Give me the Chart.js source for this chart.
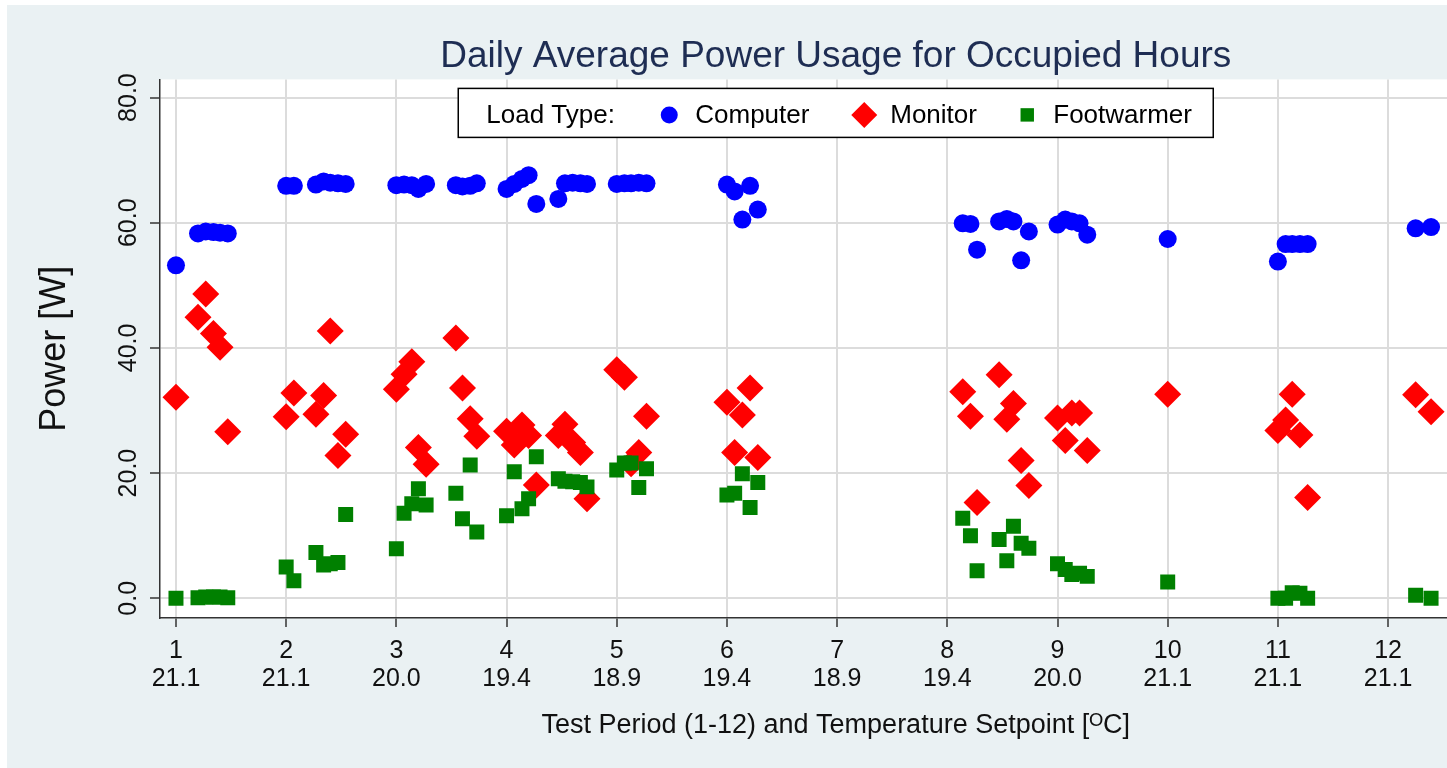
<!DOCTYPE html>
<html>
<head>
<meta charset="utf-8">
<title>Daily Average Power Usage for Occupied Hours</title>
<script src="https://cdn.jsdelivr.net/npm/chart.js@4.4.1/dist/chart.umd.min.js"></script>
<style>
  html, body { margin: 0; padding: 0; background: #fff; overflow: hidden; }
  #wrap { width: 1447px; height: 768px; overflow: hidden; }
</style>
</head>
<body>
<div id="wrap"><canvas id="powerChart" width="1525" height="768"></canvas></div>
<script>
// test periods and their temperature setpoints [C]
const periods = [1, 2, 3, 4, 5, 6, 7, 8, 9, 10, 11, 12];
const setpoints = ['21.1', '21.1', '20.0', '19.4', '18.9', '19.4', '18.9', '19.4', '20.0', '21.1', '21.1', '21.1'];
const powerTicks = [0, 20, 40, 60, 80];

// position of each measured day on the period axis
const days = [
  1.00, 1.20, 1.27, 1.34, 1.40, 1.47,
  2.00, 2.07, 2.27, 2.34, 2.40, 2.47, 2.54,
  3.00, 3.07, 3.14, 3.20, 3.27, 3.54, 3.60, 3.67, 3.73,
  4.00, 4.07, 4.14, 4.20, 4.27, 4.47, 4.53, 4.60, 4.67, 4.73,
  5.00, 5.07, 5.13, 5.20, 5.27,
  6.00, 6.07, 6.14, 6.21, 6.28,
  8.14, 8.21, 8.27, 8.47, 8.54, 8.60, 8.67, 8.74,
  9.00, 9.07, 9.13, 9.20, 9.27,
  10.00,
  11.00, 11.07, 11.13, 11.20, 11.27,
  12.25, 12.39
];

// daily average power [W]
const computer = [
  53.2, 58.3, 58.6, 58.5, 58.4, 58.3,
  65.9, 65.9, 66.1, 66.6, 66.4, 66.3, 66.2,
  66.0, 66.1, 66.0, 65.4, 66.2, 66.0, 65.8, 65.9, 66.3,
  65.4, 66.2, 67.0, 67.6, 63.0, 63.8, 66.3, 66.4, 66.3, 66.2,
  66.2, 66.3, 66.3, 66.4, 66.3,
  66.1, 65.0, 60.5, 65.9, 62.1,
  59.9, 59.8, 55.7, 60.2, 60.6, 60.2, 54.0, 58.6,
  59.7, 60.5, 60.2, 59.9, 58.1,
  57.4,
  53.8, 56.6, 56.6, 56.6, 56.6,
  59.1, 59.3
];
const monitor = [
  32.1, 44.9, 48.6, 42.3, 40.1, 26.6,
  29.0, 32.8, 29.4, 32.4, 42.7, 22.8, 26.2,
  33.4, 35.8, 37.8, 24.1, 21.4, 41.6, 33.6, 28.7, 25.9,
  26.7, 24.5, 27.7, 26.0, 18.1, 26.0, 27.8, 24.9, 23.3, 15.9,
  36.5, 35.3, 21.5, 23.3, 29.1,
  31.3, 23.3, 29.3, 33.6, 22.5,
  33.0, 29.1, 15.3, 35.7, 28.6, 31.1, 22.0, 18.0,
  28.8, 25.2, 29.6, 29.6, 23.6,
  32.6,
  26.8, 28.5, 32.6, 26.1, 16.1,
  32.5, 29.8
];
const footwarmer = [
  0.0, 0.1, 0.2, 0.2, 0.2, 0.1,
  5.0, 2.8, 7.3, 5.3, 5.5, 5.7, 13.4,
  7.9, 13.6, 15.1, 17.5, 14.9, 16.8, 12.7, 21.3, 10.6,
  13.2, 20.2, 14.3, 15.9, 22.6, 19.1, 18.7, 18.6, 18.5, 17.8,
  20.5, 21.6, 21.6, 17.7, 20.7,
  16.5, 16.8, 19.9, 14.5, 18.5,
  12.8, 10.0, 4.4, 9.4, 6.0, 11.5, 8.8, 8.0,
  5.5, 4.6, 3.8, 4.0, 3.5,
  2.6,
  0.0, 0.0, 0.9, 0.8, 0.0,
  0.5, 0.0
];

const FONT = '"Liberation Sans", Arial, sans-serif';

function toPoints(values) {
  return days.map((x, i) => ({ x: x, y: values[i] }));
}

// light bluish page with white plot region
const backgroundPlugin = {
  id: 'background',
  beforeDraw(chart) {
    const c = chart.ctx;
    const area = chart.chartArea;
    c.save();
    c.fillStyle = '#ffffff';
    c.fillRect(0, 0, chart.width, chart.height);
    c.fillStyle = '#eaf1f3';
    c.fillRect(7, 5, chart.width - 7, chart.height - 5);
    c.fillStyle = '#ffffff';
    c.fillRect(area.left, area.top, area.right - area.left, area.bottom - area.top);
    c.restore();
  }
};

// boxed legend inside the plot, "Load Type:" first
const boxLegendPlugin = {
  id: 'boxLegend',
  afterDraw(chart) {
    const c = chart.ctx;
    const area = chart.chartArea;
    const cx = (area.left + area.right) / 2;
    const boxW = 755, boxH = 49;
    const left = cx - boxW / 2, top = area.top + 9;
    const midY = top + boxH / 2 + 3;

    c.save();
    c.fillStyle = '#ffffff';
    c.fillRect(left, top, boxW, boxH);
    c.strokeStyle = '#000000';
    c.lineWidth = 1.5;
    c.strokeRect(left, top, boxW, boxH);

    c.font = '26px ' + FONT;
    c.fillStyle = '#000000';
    c.textBaseline = 'middle';
    c.textAlign = 'left';
    c.fillText('Load Type:', left + 28, midY);

    const markerAt = [211, 406, 569];
    chart.data.datasets.forEach((ds, i) => {
      const mx = left + markerAt[i];
      c.fillStyle = ds.backgroundColor;
      Chart.helpers.drawPoint(c, {
        pointStyle: ds.pointStyle,
        radius: ds.legendRadius,
        rotation: 0,
        borderWidth: 0
      }, mx, midY - 1);
      c.fillStyle = '#000000';
      c.fillText(ds.label, mx + 26, midY);
    });
    c.restore();
  }
};

const ctx = document.getElementById('powerChart').getContext('2d');
new Chart(ctx, {
  type: 'scatter',
  data: {
    datasets: [
      {
        label: 'Computer',
        data: toPoints(computer),
        backgroundColor: '#0000ff',
        pointStyle: 'circle',
        pointRadius: 9,
        legendRadius: 8.5,
        pointBorderWidth: 0,
        order: 3
      },
      {
        label: 'Monitor',
        data: toPoints(monitor),
        backgroundColor: '#ff0000',
        pointStyle: 'rectRot',
        pointRadius: 13.5,
        legendRadius: 13,
        pointBorderWidth: 0,
        order: 2
      },
      {
        label: 'Footwarmer',
        data: toPoints(footwarmer),
        backgroundColor: '#008000',
        pointStyle: 'rect',
        pointRadius: 10.6,
        legendRadius: 9.5,
        pointBorderWidth: 0,
        order: 1
      }
    ]
  },
  options: {
    responsive: false,
    animation: false,
    events: [],
    layout: { padding: 0 },
    plugins: {
      legend: { display: false },
      tooltip: { enabled: false },
      title: {
        display: true,
        fullSize: false,
        text: 'Daily Average Power Usage for Occupied Hours',
        color: '#1e2d53',
        font: { family: FONT, size: 37, weight: 'normal', lineHeight: 1.2 },
        padding: { top: 35, bottom: 0 }
      }
    },
    scales: {
      x: {
        type: 'linear',
        min: 0.855,
        max: 13.12,
        afterBuildTicks: (scale) => { scale.ticks = periods.map(v => ({ value: v })); },
        afterFit: (scale) => { scale.height = 150; },
        grid: { color: '#dcdcdc', lineWidth: 2, tickColor: '#333333', tickWidth: 1.5, tickLength: 9 },
        border: { color: '#333333', width: 1.5 },
        ticks: {
          color: '#111111',
          font: { family: FONT, size: 25, lineHeight: 1.12 },
          padding: 10,
          maxRotation: 0,
          autoSkip: false,
          callback: (v) => [String(v), setpoints[v - 1]]
        },
        title: {
          display: true,
          text: 'Test Period (1-12) and Temperature Setpoint [\u1D3CC]',
          color: '#111111',
          font: { family: FONT, size: 27, lineHeight: 1.2 },
          padding: { top: 0, bottom: 26 }
        }
      },
      y: {
        min: -3.15,
        max: 82.9,
        afterBuildTicks: (scale) => { scale.ticks = powerTicks.map(v => ({ value: v })); },
        afterFit: (scale) => { scale.width = 160; },
        grid: { color: '#dcdcdc', lineWidth: 2, tickColor: '#333333', tickWidth: 1.5, tickLength: 10 },
        border: { color: '#333333', width: 1.5 },
        ticks: {
          color: '#111111',
          font: { family: FONT, size: 25 },
          minRotation: 90,
          maxRotation: 90,
          crossAlign: 'center',
          padding: -3,
          callback: (v) => v.toFixed(1)
        },
        title: {
          display: true,
          text: 'Power [W]',
          color: '#111111',
          font: { family: FONT, size: 36, lineHeight: 1.2 },
          padding: { top: 33, bottom: 0 }
        }
      }
    }
  },
  plugins: [backgroundPlugin, boxLegendPlugin]
});
</script>
</body>
</html>
